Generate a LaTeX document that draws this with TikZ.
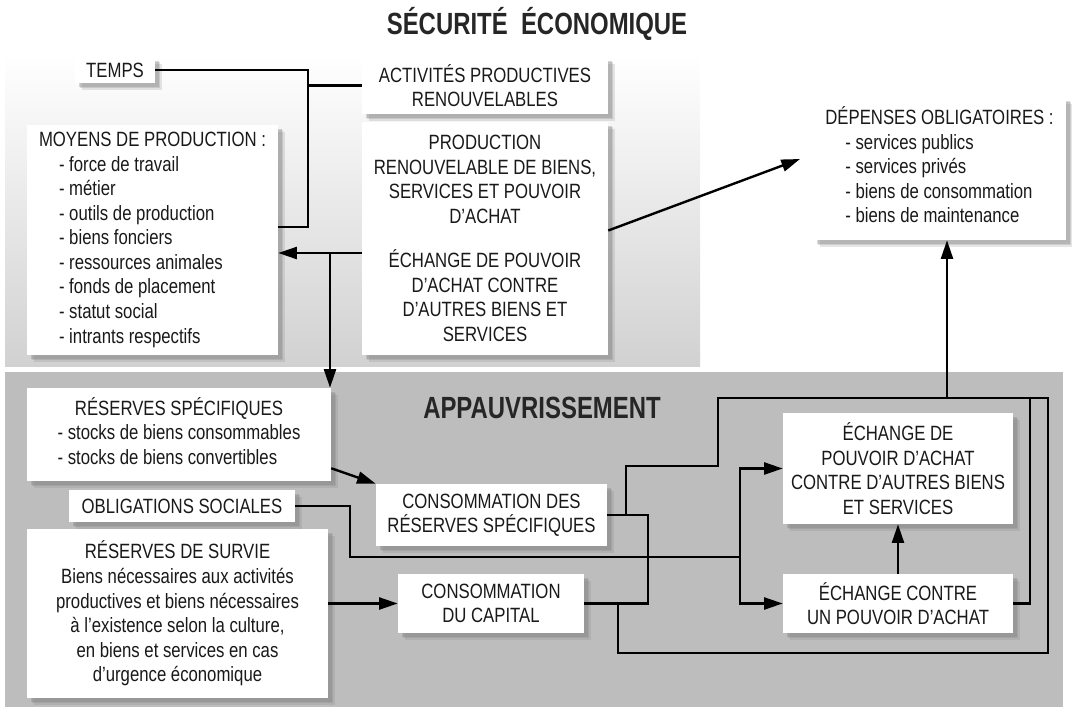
\documentclass[tikz,border=0pt]{standalone}
\usepackage{fontspec}
\setmainfont{Liberation Sans}[FakeStretch=0.81]
\newfontfamily\titlefont{Liberation Sans}[FakeStretch=0.78]
\usepackage{tikz}
\usetikzlibrary{positioning,arrows.meta,shadows,calc}

\begin{document}
\begin{tikzpicture}[x=0.75pt,y=0.75pt,yscale=-1,xscale=1,
  box/.style={fill=white,inner sep=0pt,align=center,font=\fontsize{15.5}{18.4}\selectfont,text=black!90,
    drop shadow={shadow xshift=5pt,shadow yshift=-5pt,opacity=0.2},
    drop shadow={shadow xshift=4pt,shadow yshift=-4pt,opacity=0.25},
    drop shadow={shadow xshift=3pt,shadow yshift=-3pt,opacity=0.3}},
  link/.style={line width=1.8pt},
  arr/.style={line width=1.8pt,-{Triangle[length=14pt,width=9pt]}},
  heading/.style={font=\titlefont\bfseries\fontsize{23}{26}\selectfont,text=black!85}]
        \useasboundingbox (0,0) rectangle (1072,711);
        \shade[top color=white,bottom color=black!18] (5,55) rectangle (700,366);
        \fill[black!26] (5,372) rectangle (1063,707);

        \node[heading] (titre) at (537,24) {SÉCURITÉ\ \ ÉCONOMIQUE};
        \node[heading] (appauv) at (542,408) {APPAUVRISSEMENT};

        % securite economique
        \node[box,minimum width=60pt,minimum height=19.5pt] (temps) at (115,70) {TEMPS};
        \node[box,minimum width=188.25pt,minimum height=172.5pt] (moyens) at (152.5,240) {\begin{tabular}{@{}l@{}}MOYENS DE PRODUCTION :\\
          \hspace{15pt}- force de travail\\ \hspace{15pt}- métier\\ \hspace{15pt}- outils de production\\
          \hspace{15pt}- biens fonciers\\ \hspace{15pt}- ressources animales\\ \hspace{15pt}- fonds de placement\\
          \hspace{15pt}- statut social\\ \hspace{15pt}- intrants respectifs\end{tabular}};
        \node[box,minimum width=184.5pt,minimum height=42.75pt] (activ) at (485,85.5) {ACTIVITÉS PRODUCTIVES\\RENOUVELABLES};
        \node[box,minimum width=184.5pt,minimum height=174.75pt] (prod) at (485,238.5) {PRODUCTION\\RENOUVELABLE DE BIENS,\\SERVICES ET POUVOIR\\D’ACHAT\\[15pt]
          ÉCHANGE DE POUVOIR\\D’ACHAT CONTRE\\D’AUTRES BIENS ET\\SERVICES};
        \node[box,minimum width=189.75pt,minimum height=107.25pt] (depenses) at (939.5,168.5) {\begin{tabular}{@{}l@{}}DÉPENSES OBLIGATOIRES :\\
          \hspace{15pt}- services publics\\ \hspace{15pt}- services privés\\ \hspace{15pt}- biens de consommation\\
          \hspace{15pt}- biens de maintenance\end{tabular}};

        % appauvrissement
        \node[box,minimum width=228pt,minimum height=69.75pt] (resspec) at (179,434.5) {\begin{tabular}{@{}l@{}}\multicolumn{1}{@{}c@{}}{RÉSERVES SPÉCIFIQUES}\\
          - stocks de biens consommables\\ - stocks de biens convertibles\end{tabular}};
        \node[box,minimum width=169.5pt,minimum height=24pt] (oblig) at (182,506) {OBLIGATIONS SOCIALES};
        \node[box,minimum width=225.75pt,minimum height=126.75pt] (survie) at (177.5,613.5) {RÉSERVES DE SURVIE\\Biens nécessaires aux activités\\
          productives et biens nécessaires\\à l’existence selon la culture,\\en biens et services en cas\\d’urgence économique};
        \node[box,minimum width=173.25pt,minimum height=46.5pt] (consres) at (491.5,515) {CONSOMMATION DES\\RÉSERVES SPÉCIFIQUES};
        \node[box,minimum width=139.5pt,minimum height=44.25pt] (conscap) at (491,603.5) {CONSOMMATION\\DU CAPITAL};
        \node[box,minimum width=172.5pt,minimum height=83.25pt] (echde) at (898,468.5) {ÉCHANGE DE\\POUVOIR D’ACHAT\\CONTRE D’AUTRES BIENS\\ET SERVICES};
        \node[box,minimum width=172.5pt,minimum height=44.25pt] (echcontre) at (898,603.5) {ÉCHANGE CONTRE\\UN POUVOIR D’ACHAT};

        % bends
        \coordinate (jtemps) at (308,227);
        \coordinate (split) at (330,253);
        \coordinate (depin) at (800,159);
        \coordinate (topbus) at (947,398);
        \coordinate (rbr) at (648,515);
        \coordinate (up1) at (626,466);
        \coordinate (tl) at (718,398);
        \coordinate (tr) at (1048,398);
        \coordinate (br) at (1048,653);
        \coordinate (bl) at (618,653);
        \coordinate (inr) at (1030,398);
        \coordinate (ob) at (350,557);
        \coordinate (ebus) at (740,557);

        \draw[link] (temps.east) -| (jtemps) -- (jtemps -| moyens.east);
        \draw[link] (activ.west) -- (activ.west -| jtemps);
        \draw[arr] (split -| prod.west) -- (split -| moyens.east);
        \draw[arr] (split) -- (split |- resspec.north);
        \draw[arr] ($(prod.east)+(0,-8)$) -- (depin);
        \draw[arr] (topbus) -- (topbus |- depenses.south);

        \draw[arr] ($(resspec.south east)+(0,-13)$) -- (consres.north west);
        \draw[arr] (survie.east |- conscap.west) -- (conscap.west);
        \draw[link] (oblig.east) -| (ob) -- (ebus);
        \draw[arr] (ebus) |- (echde.west);
        \draw[arr] (ebus) |- (echcontre.west);
        \draw[arr] (echcontre.north) -- (echde.south);
        \draw[link] (consres.east) -- (rbr) |- (conscap.east);
        \draw[link] (consres.east -| up1) -- (up1) -| (tl) -- (tr) -- (br) -- (bl) -- (bl |- conscap.east);
        \draw[link] (echcontre.east) -| (inr);
\end{tikzpicture}
\end{document}
